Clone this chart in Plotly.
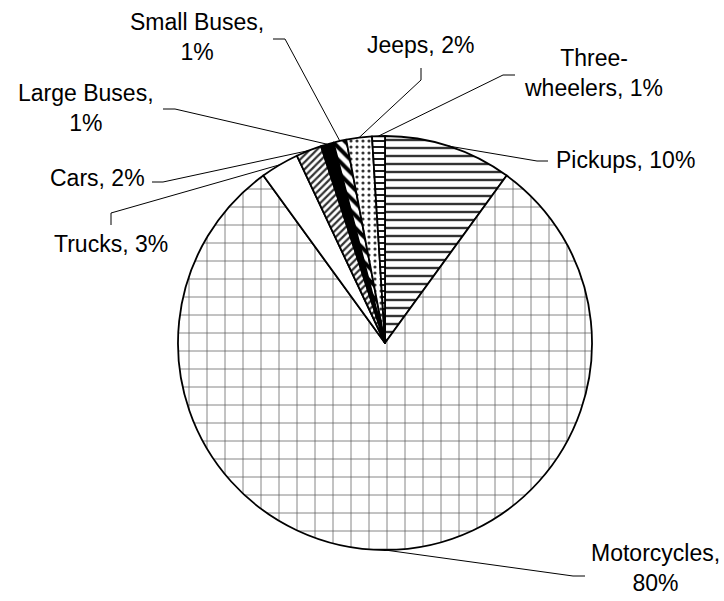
import math
import plotly.graph_objects as go

# ---- data ----
categories = ["Pickups", "Motorcycles", "Trucks", "Cars", "Large Buses",
              "Small Buses", "Jeeps", "Three-wheelers"]
values = [10, 80, 3, 2, 1, 1, 2, 1]
label_texts = ["Pickups, 10%", "Motorcycles,<br>80%", "Trucks, 3%", "Cars, 2%",
               "Large Buses,<br>1%", "Small Buses,<br>1%", "Jeeps, 2%",
               "Three-<br>wheelers, 1%"]

# ---- styling ----
W, H = 724, 601
CX, CY, R = 385, 343, 207          # pie centre / radius in pixels
FONT = dict(family="Liberation Sans, Arial, sans-serif", size=23, color="black")

fill_colors = ["white", "white", "white", "white", "black", "white", "white", "white"]
pat_shapes = ["-", "+", "", "/", "", "\\", ".", "-"]
pat_fg = ["#333333", "#5a5a5a", "black", "#333333", "black", "black", "#333333", "black"]
pat_size = [8, 18, 8, 5, 8, 9, 6, 6]
pat_solid = [0.3, 0.08, 0.3, 0.45, 0.3, 0.45, 0.22, 0.3]

# label centres, elbow and label-end points (pixels)
label_pos = [(625, 160), (655, 568), (111, 244), (97, 178), (86, 108),
             (197, 37), (420, 45), (593, 73)]
leader_elbow = [(537, 161), (573, 576), (111, 213), (163, 182), (175, 109),
                (285, 39), (421, 80), (503, 75)]
leader_end = [(548, 161), (585, 576), (111, 225), (152, 182), (163, 109),
              (273, 39), (421, 68), (515, 75)]


def px(x):
    return x / W


def py(y):
    return 1 - y / H


fig = go.Figure(go.Pie(
    labels=categories,
    values=values,
    sort=False,
    direction="clockwise",
    rotation=0,
    textinfo="none",
    hoverinfo="label+percent",
    domain=dict(x=[px(CX - R), px(CX + R)], y=[py(CY + R), py(CY - R)]),
    marker=dict(
        colors=fill_colors,
        line=dict(color="black", width=1.8),
        pattern=dict(shape=pat_shapes, fgcolor=pat_fg, bgcolor=fill_colors,
                     size=pat_size, solidity=pat_solid, fillmode="replace"),
    ),
    showlegend=False,
))

total = sum(values)
cum = 0
shapes = []
annotations = []
for i, v in enumerate(values):
    theta = math.radians(360 * (cum + v / 2) / total)
    cum += v
    ex, ey = CX + R * math.sin(theta), CY - R * math.cos(theta)
    (bx, by), (lx, ly) = leader_elbow[i], leader_end[i]
    shapes.append(dict(
        type="path", xref="paper", yref="paper",
        path=f"M {px(ex)},{py(ey)} L {px(bx)},{py(by)} L {px(lx)},{py(ly)}",
        line=dict(color="black", width=1),
    ))
    tx, ty = label_pos[i]
    annotations.append(dict(
        x=px(tx), y=py(ty), xref="paper", yref="paper",
        text=label_texts[i], showarrow=False, xanchor="center", yanchor="middle",
        align="center", font=FONT,
    ))

fig.update_layout(
    width=W, height=H,
    margin=dict(l=0, r=0, t=0, b=0),
    paper_bgcolor="white", plot_bgcolor="white",
    shapes=shapes, annotations=annotations,
    font=FONT,
)

fig.write_html(
    "out.html",
    config={"displayModeBar": False},
    post_script="document.body.style.margin='0';document.body.style.overflow='hidden';",
)
